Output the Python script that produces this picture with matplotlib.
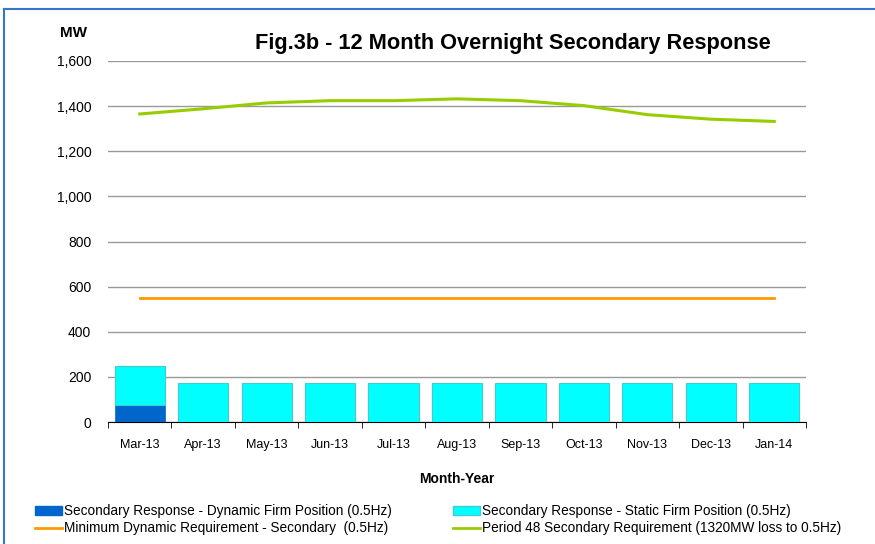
import numpy as np
import matplotlib
matplotlib.use("Agg")
import matplotlib.pyplot as plt
from matplotlib.patches import Patch
from matplotlib.lines import Line2D

plt.rcParams['font.family'] = ['Liberation Sans', 'DejaVu Sans']

months = ["Mar-13", "Apr-13", "May-13", "Jun-13", "Jul-13", "Aug-13",
          "Sep-13", "Oct-13", "Nov-13", "Dec-13", "Jan-14"]
dynamic_firm = [75, 0, 0, 0, 0, 0, 0, 0, 0, 0, 0]
static_firm = [175, 175, 175, 175, 175, 175, 175, 175, 175, 175, 175]
min_dynamic = [550, 550, 550, 550, 550, 550, 550, 550, 550, 550, 550]
period48 = [1365, 1388, 1414, 1424, 1424, 1432, 1424, 1402, 1362, 1342, 1332]

fig = plt.figure(figsize=(8.75, 5.44), dpi=100)
ax = fig.add_axes([108 / 875, 0.224, 698 / 875, 0.664])

x = np.arange(len(months))
ax.bar(x, dynamic_firm, width=0.79, color="#0066cc", edgecolor="#0066cc", linewidth=0.5, zorder=3)
ax.bar(x, static_firm, width=0.79, bottom=dynamic_firm, color="#00ffff",
       edgecolor="#44cccc", linewidth=0.8, zorder=3)
ax.plot(x, min_dynamic, color="#ff9900", lw=2, zorder=4)
ax.plot(x, period48, color="#99cc00", lw=2.2, zorder=4)

ax.set_xlim(-0.5, len(months) - 0.5)
ax.set_ylim(0, 1600)
ax.set_yticks(range(0, 1601, 200))
ax.set_yticklabels([f"{v:,}" for v in range(0, 1601, 200)], fontsize=10)
ax.set_xticks(x)
ax.set_xticklabels(months, fontsize=9)
ax.set_xticks(np.arange(-0.5, len(months), 1), minor=True)
ax.tick_params(axis='x', which='major', length=0, pad=12)
ax.tick_params(axis='x', which='minor', length=4, direction='out')
ax.tick_params(axis='y', length=0, pad=12)

ax.grid(axis='y', color="#999999", lw=1, zorder=0)
for s in ["top", "right", "left"]:
    ax.spines[s].set_visible(False)
ax.spines["bottom"].set_color("black")

ax.set_xlabel("Month-Year", fontsize=10, fontweight="bold", labelpad=15)
fig.text(60 / 875, 1 - 33 / 544, "MW", fontsize=11, fontweight="bold", va="center")
fig.text(255 / 875, 1 - 43 / 544, "Fig.3b - 12 Month Overnight Secondary Response",
         fontsize=15.7, fontweight="bold", va="center")

leg_opts = dict(loc="upper left", frameon=False, fontsize=9.8, handlelength=2.0,
                handleheight=0.6, handletextpad=0.15, labelspacing=0.25,
                borderpad=0, borderaxespad=0)
fig.legend([Patch(color="#0066cc"), Line2D([], [], color="#ff9900", lw=2)],
           ["Secondary Response - Dynamic Firm Position (0.5Hz)",
            "Minimum Dynamic Requirement - Secondary  (0.5Hz)"],
           bbox_to_anchor=(35 / 875, 1 - 504 / 544), **leg_opts)
fig.legend([Patch(facecolor="#00ffff", edgecolor="#44cccc"), Line2D([], [], color="#99cc00", lw=2)],
           ["Secondary Response - Static Firm Position (0.5Hz)",
            "Period 48 Secondary Requirement (1320MW loss to 0.5Hz)"],
           bbox_to_anchor=(453 / 875, 1 - 504 / 544), **leg_opts)

# outer frame
fig.add_artist(Line2D([0.004, 0.004], [0, 0.984], color="#3377cc", lw=1.5, transform=fig.transFigure))
fig.add_artist(Line2D([0.004, 1.0], [0.984, 0.984], color="#3377cc", lw=1.5, transform=fig.transFigure))

fig.savefig("out.png", dpi=100)
